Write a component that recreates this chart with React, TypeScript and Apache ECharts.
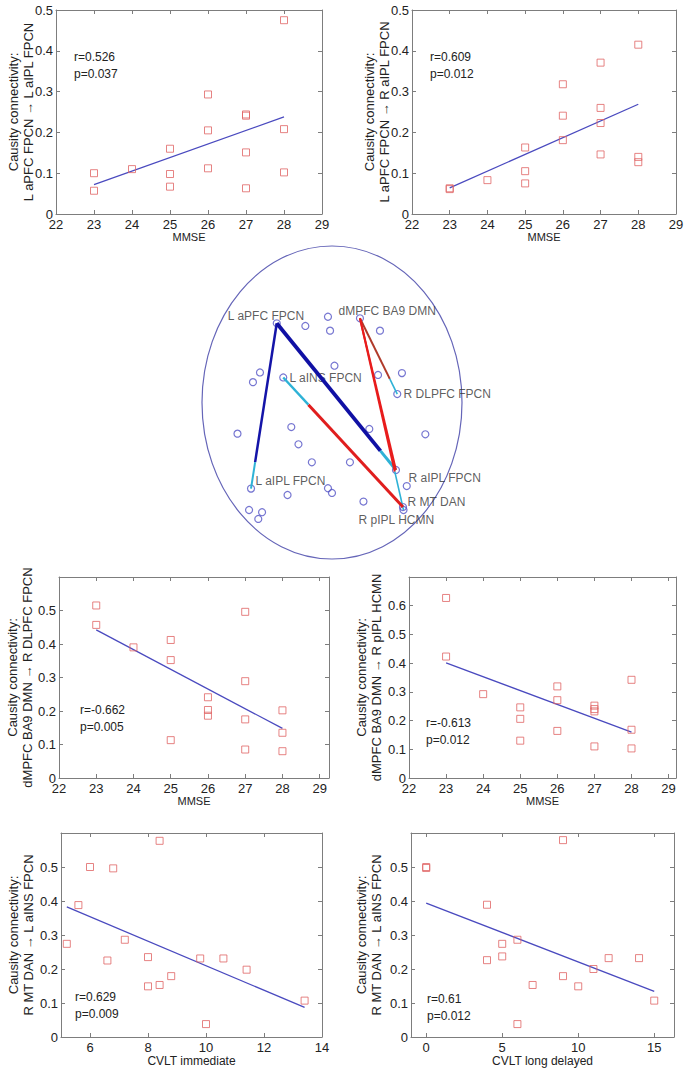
import React, { useEffect, useRef } from "react";
import * as echarts from "echarts";

// ---------- tick labels ----------
const mmseTicks = [22, 23, 24, 25, 26, 27, 28, 29];
const cvltImmTicks = [6, 8, 10, 12, 14];
const cvltDelTicks = [0, 5, 10, 15];
const yTicks05 = [0, 0.1, 0.2, 0.3, 0.4, 0.5];
const yTicks06 = [0, 0.1, 0.2, 0.3, 0.4, 0.5, 0.6];

// ---------- panel 1: L aPFC FPCN -> L aIPL FPCN vs MMSE ----------
const p1X = [23, 23, 24, 25, 25, 25, 26, 26, 26, 27, 27, 27, 27, 28, 28, 28];
const p1Y = [0.1, 0.057, 0.11, 0.16, 0.098, 0.067, 0.293, 0.205, 0.112, 0.244, 0.241, 0.151, 0.063, 0.475, 0.208, 0.102];
const p1Fit = [[23, 0.072], [28, 0.238]];

// ---------- panel 2: L aPFC FPCN -> R aIPL FPCN vs MMSE ----------
const p2X = [23, 23, 24, 25, 25, 25, 26, 26, 26, 27, 27, 27, 27, 28, 28, 28];
const p2Y = [0.063, 0.061, 0.083, 0.163, 0.105, 0.075, 0.318, 0.241, 0.181, 0.371, 0.26, 0.223, 0.146, 0.415, 0.14, 0.127];
const p2Fit = [[23, 0.064], [28, 0.269]];

// ---------- panel 3: dMPFC BA9 DMN -> R DLPFC FPCN vs MMSE ----------
const p3X = [23, 23, 24, 25, 25, 25, 26, 26, 26, 27, 27, 27, 27, 28, 28, 28];
const p3Y = [0.515, 0.457, 0.39, 0.412, 0.352, 0.113, 0.241, 0.203, 0.186, 0.496, 0.289, 0.175, 0.085, 0.202, 0.135, 0.08];
const p3Fit = [[23, 0.442], [28, 0.148]];

// ---------- panel 4: dMPFC BA9 DMN -> R pIPL HCMN vs MMSE ----------
const p4X = [23, 23, 24, 25, 25, 25, 26, 26, 26, 27, 27, 27, 27, 28, 28, 28];
const p4Y = [0.627, 0.423, 0.292, 0.246, 0.206, 0.13, 0.319, 0.271, 0.164, 0.252, 0.24, 0.232, 0.11, 0.342, 0.168, 0.103];
const p4Fit = [[23, 0.401], [28, 0.16]];

// ---------- panel 5: R MT DAN -> L aINS FPCN vs CVLT immediate ----------
const p5X = [5.2, 5.6, 6.0, 6.6, 6.8, 7.2, 8.0, 8.0, 8.4, 8.4, 8.8, 9.8, 10.0, 10.6, 11.4, 13.4];
const p5Y = [0.274, 0.388, 0.5, 0.225, 0.496, 0.286, 0.235, 0.149, 0.577, 0.153, 0.179, 0.231, 0.038, 0.231, 0.198, 0.107];
const p5Fit = [[5.2, 0.383], [13.4, 0.087]];

// ---------- panel 6: R MT DAN -> L aINS FPCN vs CVLT long delayed ----------
const p6X = [0, 0, 4, 4, 5, 5, 6, 6, 7, 9, 9, 10, 11, 12, 14, 15];
const p6Y = [0.5, 0.497, 0.389, 0.226, 0.274, 0.237, 0.038, 0.286, 0.153, 0.579, 0.179, 0.149, 0.2, 0.232, 0.232, 0.107];
const p6Fit = [[0, 0.394], [15, 0.134]];

// ---------- network (normalised coordinates inside the ellipse) ----------
const netNames = ["L aPFC FPCN", "dMPFC BA9 DMN", "L aINS FPCN", "R DLPFC FPCN", "L aIPL FPCN", "R aIPL FPCN", "R MT DAN", "R pIPL HCMN"];
const netNodeXY: number[][] = [
  [-0.425, 0.506], [0.215, 0.538], [-0.375, 0.16], [0.502, 0.054],
  [-0.623, -0.55], [0.492, -0.431], [0.546, -0.668], [0.55, -0.687],
];
const otherNodes: number[][] = [
  [-0.205, 0.489], [-0.031, 0.548], [-0.015, 0.459], [0.369, 0.459], [0.019, 0.235],
  [-0.554, 0.192], [-0.608, 0.13], [0.354, 0.176], [0.538, 0.188], [-0.727, -0.199],
  [-0.313, -0.157], [0.287, -0.169], [0.718, -0.203], [-0.258, -0.267], [-0.155, -0.382],
  [0.138, -0.382], [0.575, -0.534], [-0.342, -0.591], [-0.031, -0.548], [0.0, -0.578],
  [0.242, -0.633], [-0.638, -0.687], [-0.538, -0.701], [-0.567, -0.744],
];
// edges: [from, to]
const netEdges = [[0, 4], [0, 5], [1, 3], [1, 5], [1, 7], [6, 2]];
const netEdgeKind = ["pos", "posThick", "negDark", "neg", "neg", "negThick"];
const netTail = [0.16, 0.13, 0.2, 0, 0.2, 0.21];

const FONT = "'Liberation Sans', Arial, Helvetica, sans-serif";
const AXIS_COLOR = "#7d7d7d";
const TEXT_COLOR = "#222";

type PanelDef = {
  rect: { left: number; top: number; width: number; height: number };
  xr: number[];
  yr: number[];
  xTicks: number[];
  yTicks: number[];
  xName: string;
  xNameSize: number;
  yName: string;
  yNameX: number;
  xs: number[];
  ys: number[];
  fit: number[][];
  stats: string[];
  statPos: number[];
};

const panels: PanelDef[] = [
  {
    rect: { left: 56, top: 10, width: 266, height: 204 }, xr: [22, 29], yr: [0, 0.5],
    xTicks: mmseTicks, yTicks: yTicks05, xName: "MMSE", xNameSize: 11, yNameX: 21,
    yName: "Causity connectivity:\nL aPFC FPCN \u2192 L aIPL FPCN",
    xs: p1X, ys: p1Y, fit: p1Fit, stats: ["r=0.526", "p=0.037"], statPos: [74, 55],
  },
  {
    rect: { left: 412, top: 10, width: 264, height: 204 }, xr: [22, 29], yr: [0, 0.5],
    xTicks: mmseTicks, yTicks: yTicks05, xName: "MMSE", xNameSize: 11, yNameX: 377,
    yName: "Causity connectivity:\nL aPFC FPCN \u2192 R aIPL FPCN",
    xs: p2X, ys: p2Y, fit: p2Fit, stats: ["r=0.609", "p=0.012"], statPos: [430, 55],
  },
  {
    rect: { left: 59, top: 577, width: 270, height: 201 }, xr: [22, 29.25], yr: [0, 0.6],
    xTicks: mmseTicks, yTicks: yTicks05, xName: "MMSE", xNameSize: 11, yNameX: 20,
    yName: "Causity connectivity:\ndMPFC BA9 DMN \u2192 R DLPFC FPCN",
    xs: p3X, ys: p3Y, fit: p3Fit, stats: ["r=-0.662", "p=0.005"], statPos: [80, 708],
  },
  {
    rect: { left: 409, top: 577, width: 267, height: 201 }, xr: [22, 29.2], yr: [0, 0.7],
    xTicks: mmseTicks, yTicks: yTicks06, xName: "MMSE", xNameSize: 11, yNameX: 369,
    yName: "Causity connectivity:\ndMPFC BA9 DMN \u2192 R pIPL HCMN",
    xs: p4X, ys: p4Y, fit: p4Fit, stats: ["r=-0.613", "p=0.012"], statPos: [426, 721],
  },
  {
    rect: { left: 61, top: 833, width: 261, height: 204 }, xr: [5, 14], yr: [0, 0.6],
    xTicks: cvltImmTicks, yTicks: yTicks05, xName: "CVLT immediate", xNameSize: 12, yNameX: 20.5,
    yName: "Causity connectivity:\nR MT DAN \u2192 L aINS FPCN",
    xs: p5X, ys: p5Y, fit: p5Fit, stats: ["r=0.629", "p=0.009"], statPos: [75, 995],
  },
  {
    rect: { left: 411, top: 833, width: 263, height: 204 }, xr: [-1, 16.3], yr: [0, 0.6],
    xTicks: cvltDelTicks, yTicks: yTicks05, xName: "CVLT long delayed", xNameSize: 12, yNameX: 369,
    yName: "Causity connectivity:\nR MT DAN \u2192 L aINS FPCN",
    xs: p6X, ys: p6Y, fit: p6Fit, stats: ["r=0.61", "p=0.012"], statPos: [427, 997],
  },
];

const labelOffsets: number[][] = [
  [-53, -7], [-25.5, -7.3], [2.2, 0.5], [2.2, -0.5], [0.5, -7.5], [8.5, 8], [0.5, -5], [-49, 10],
];

const edgeColors: Record<string, string> = {
  pos: "#1414a8", posThick: "#1010a4", negDark: "#b03a2a", neg: "#e81c1c", negThick: "#e01e1e",
};
const edgeWidths: Record<string, number> = {
  pos: 2.5, posThick: 3.8, negDark: 2, neg: 2, negThick: 3,
};
const TAIL_COLOR = "#2eb2d6";

function buildOption() {
  const grids: any[] = [];
  const xAxes: any[] = [];
  const yAxes: any[] = [];
  const series: any[] = [];
  const graphics: any[] = [];

  panels.forEach((p, i) => {
    grids.push({ ...p.rect, show: false, containLabel: false });
    const common = {
      gridIndex: i, type: "value", splitLine: { show: false },
      axisLine: { show: true, onZero: false, lineStyle: { color: AXIS_COLOR, width: 1 } },
    };
    xAxes.push({
      ...common, position: "bottom", min: p.xr[0], max: p.xr[1],
      axisTick: { show: true, inside: true, length: 4, customValues: p.xTicks, lineStyle: { color: AXIS_COLOR } },
      axisLabel: { show: true, customValues: p.xTicks, color: TEXT_COLOR, fontSize: 13, margin: 4, fontFamily: FONT },
      name: p.xName, nameLocation: "middle", nameGap: 17,
      nameTextStyle: { color: TEXT_COLOR, fontSize: p.xNameSize, fontFamily: FONT },
    });
    xAxes.push({
      ...common, position: "top", min: p.xr[0], max: p.xr[1],
      axisTick: { show: true, inside: true, length: 4, customValues: p.xTicks, lineStyle: { color: AXIS_COLOR } },
      axisLabel: { show: false },
    });
    yAxes.push({
      ...common, position: "left", min: p.yr[0], max: p.yr[1],
      axisTick: { show: true, inside: true, length: 4, customValues: p.yTicks, lineStyle: { color: AXIS_COLOR } },
      axisLabel: { show: true, customValues: p.yTicks, color: TEXT_COLOR, fontSize: 13, margin: 3, fontFamily: FONT },
    });
    yAxes.push({
      ...common, position: "right", min: p.yr[0], max: p.yr[1],
      axisTick: { show: true, inside: true, length: 4, customValues: p.yTicks, lineStyle: { color: AXIS_COLOR } },
      axisLabel: { show: false },
    });
    series.push({
      type: "line", xAxisIndex: 2 * i, yAxisIndex: 2 * i, data: p.fit,
      symbol: "none", showSymbol: false, silent: true,
      lineStyle: { color: "#4a4abf", width: 1.3 }, z: 2,
    });
    series.push({
      type: "scatter", xAxisIndex: 2 * i, yAxisIndex: 2 * i,
      data: p.xs.map((x, k) => [x, p.ys[k]]),
      symbol: "rect", symbolSize: 7, silent: true,
      itemStyle: { color: "rgba(255,255,255,0)", borderColor: "#e06464", borderWidth: 1 }, z: 3,
    });
    graphics.push({
      type: "text", left: p.statPos[0], top: p.statPos[1] - 7,
      style: { text: p.stats.join("\n"), fill: TEXT_COLOR, font: `12px ${FONT}`, lineHeight: 17 },
    });
    // y axis title (two lines, rotated)
    graphics.push({
      type: "text", x: p.yNameX, y: p.rect.top + p.rect.height / 2, rotation: Math.PI / 2, silent: true,
      style: {
        text: p.yName, fill: TEXT_COLOR, font: `13px ${FONT}`, lineHeight: 15,
        align: "center", verticalAlign: "middle", textAlign: "center", textVerticalAlign: "middle",
      },
    });
  });

  // network panel
  const ni = panels.length;
  grids.push({ left: 202, top: 246, width: 260, height: 313, show: false });
  xAxes.push({ gridIndex: ni, type: "value", min: -1, max: 1, show: false });
  yAxes.push({ gridIndex: ni, type: "value", min: -1, max: 1, show: false });
  const nodeStyle = { color: "rgba(255,255,255,0)", borderColor: "#5454c6", borderWidth: 1.2 };
  const nodeData: any[] = netNodeXY.map((xy, k) => ({
    value: xy,
    label: {
      show: true, formatter: netNames[k], position: "right", distance: 0,
      offset: labelOffsets[k], color: "#333", fontSize: 12, fontFamily: FONT,
    },
  }));
  otherNodes.forEach((xy) => nodeData.push({ value: xy }));
  series.push({
    type: "scatter", xAxisIndex: 2 * ni, yAxisIndex: 2 * ni, data: nodeData,
    symbol: "circle", symbolSize: 7, itemStyle: nodeStyle, silent: true, z: 2,
  });
  const lineData: any[] = [];
  netEdges.forEach(([a, b], k) => {
    const p0 = netNodeXY[a];
    const p1 = netNodeXY[b];
    const t = 1 - netTail[k];
    const mid = [p0[0] + (p1[0] - p0[0]) * t, p0[1] + (p1[1] - p0[1]) * t];
    const kind = netEdgeKind[k];
    lineData.push({ coords: [p0, mid], lineStyle: { color: edgeColors[kind], width: edgeWidths[kind] } });
    if (netTail[k] > 0) {
      lineData.push({ coords: [mid, p1], lineStyle: { color: TAIL_COLOR, width: edgeWidths[kind] * 0.8 } });
    }
  });
  series.push({
    type: "lines", coordinateSystem: "cartesian2d", xAxisIndex: 2 * ni, yAxisIndex: 2 * ni,
    data: lineData, silent: true, z: 4, lineStyle: { opacity: 1, curveness: 0 },
  });
  graphics.push({
    type: "ellipse", shape: { cx: 332, cy: 402.5, rx: 130, ry: 156.5 }, z: -1,
    style: { fill: "none", stroke: "#6565b8", lineWidth: 1.2 }, silent: true,
  });

  return {
    animation: false,
    backgroundColor: "#ffffff",
    textStyle: { fontFamily: FONT },
    grid: grids,
    xAxis: xAxes,
    yAxis: yAxes,
    series,
    graphic: graphics,
  };
}

export default function App() {
  const ref = useRef<HTMLDivElement>(null);
  useEffect(() => {
    if (!ref.current) return;
    const chart = echarts.init(ref.current, undefined, { renderer: "svg" });
    chart.setOption(buildOption() as any);
    return () => chart.dispose();
  }, []);
  return (
    <div
      ref={ref}
      style={{ position: "absolute", left: 0, top: 0, width: 688, height: 1074, background: "#fff" }}
    />
  );
}
